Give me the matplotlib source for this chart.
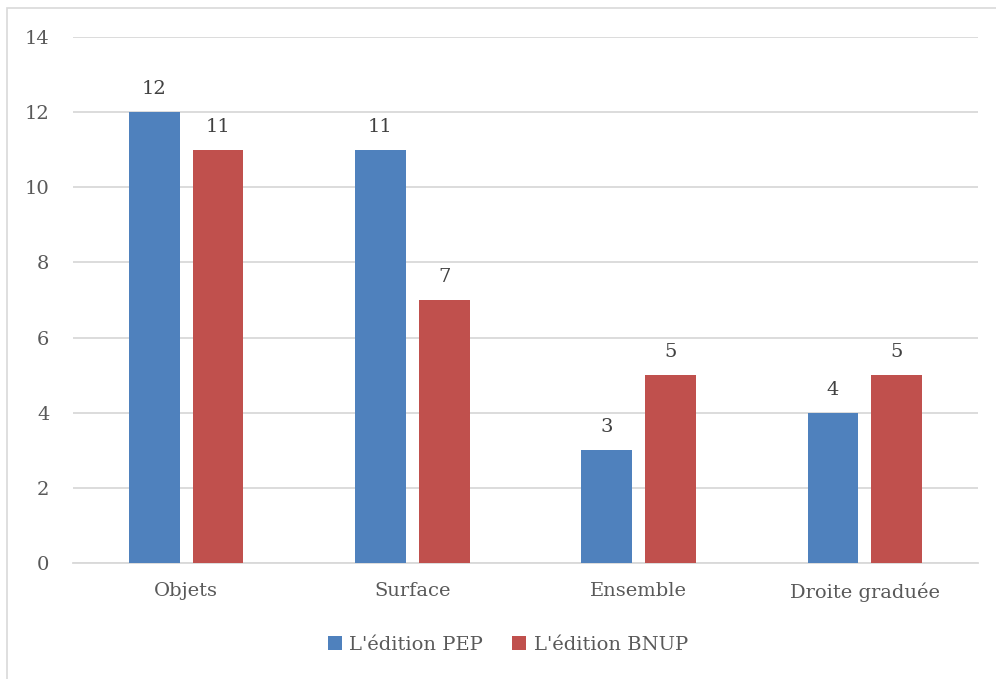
import matplotlib
matplotlib.use("Agg")
import matplotlib.pyplot as plt
import numpy as np
from matplotlib.patches import Rectangle

categories = ["Objets", "Surface", "Ensemble", "Droite graduée"]
series_names = ["L'édition PEP", "L'édition BNUP"]
pep = [12, 11, 3, 4]
bnup = [11, 7, 5, 5]
colors = ["#4F81BD", "#C0504D"]
yticks = [0, 2, 4, 6, 8, 10, 12, 14]

plt.rcParams['font.family'] = ['DejaVu Serif']
W, H = 996, 679
fig = plt.figure(figsize=(W / 100, H / 100), dpi=100)
fig.patch.set_facecolor("white")

# outer border
fig.patches.append(Rectangle((7 / W, -0.1), 1.2, 1 - 8 / H + 0.1, transform=fig.transFigure,
                             fill=False, edgecolor="#D9D9D9", linewidth=1.2))

ax = fig.add_axes([73 / W, 1 - 563 / H, (978 - 73) / W, (563 - 37) / H])
x = np.arange(len(categories))
bw = 0.225
gap = 0.057
off = (bw + gap) / 2
for vals, c, name, sgn in [(pep, colors[0], series_names[0], -1), (bnup, colors[1], series_names[1], 1)]:
    bars = ax.bar(x + sgn * off, vals, width=bw, color=c, label=name, zorder=3)
    for b, v in zip(bars, vals):
        ax.annotate(str(v), (b.get_x() + b.get_width() / 2, v), xytext=(0, 10),
                    textcoords="offset points", ha="center", va="bottom",
                    fontsize=14, color="#404040")

ax.set_xlim(-0.5, len(categories) - 0.5)
ax.set_ylim(0, 14)
ax.set_yticks(yticks)
ax.set_xticks(x)
ax.set_xticklabels(categories)
ax.yaxis.grid(True, color="#D9D9D9", linewidth=1.3, zorder=0)
for s in ["top", "right", "left"]:
    ax.spines[s].set_visible(False)
ax.spines["bottom"].set_color("#D9D9D9")
ax.spines["bottom"].set_linewidth(1.3)
ax.tick_params(axis="both", length=0, labelsize=14, colors="#595959")
ax.tick_params(axis="y", pad=17)
ax.tick_params(axis="x", pad=14)

leg = fig.legend(loc="center", bbox_to_anchor=(0.51, 1 - 645 / H), ncol=2, frameon=False,
                 fontsize=14, handlelength=0.7, handleheight=0.7, handletextpad=0.4,
                 columnspacing=1.5)
for t in leg.get_texts():
    t.set_color("#595959")

fig.savefig("out.png", dpi=100)
